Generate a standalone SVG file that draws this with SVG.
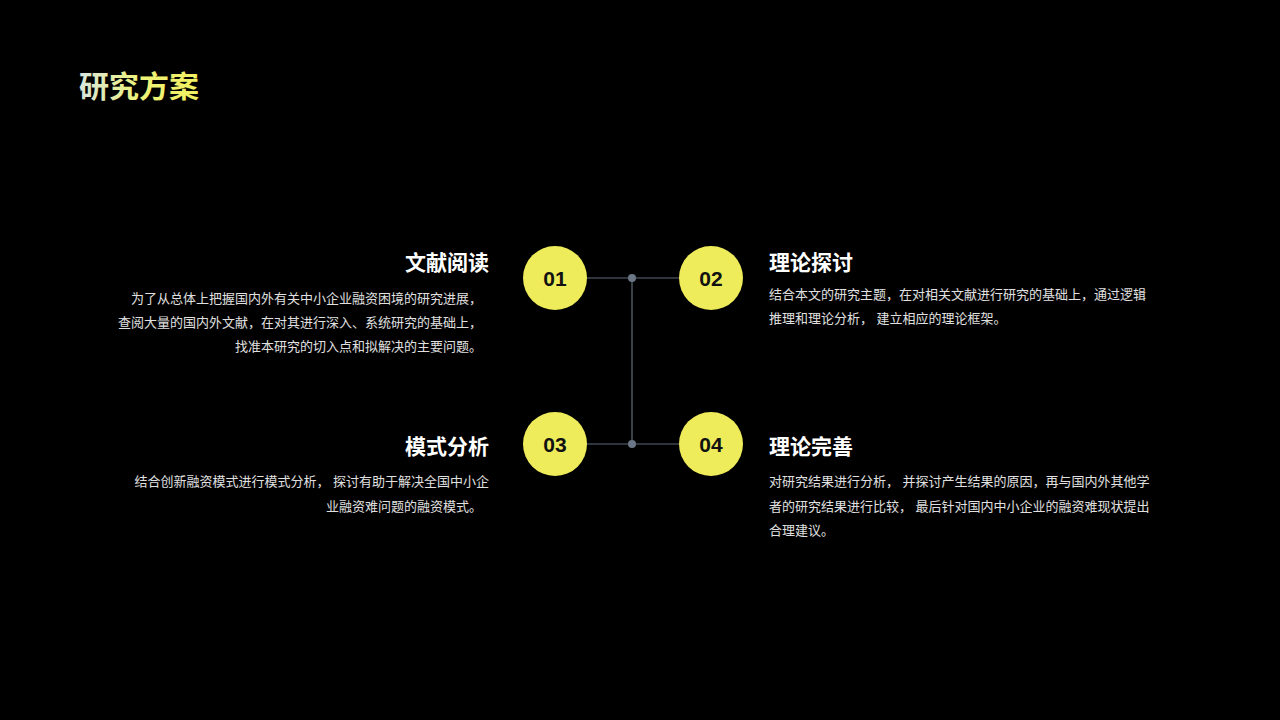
<svg xmlns="http://www.w3.org/2000/svg" width="1280" height="720" viewBox="0 0 1280 720">
<defs>
<linearGradient id="tg" x1="0" y1="0" x2="1" y2="0"><stop offset="0" stop-color="#d8e6e0"/><stop offset="0.5" stop-color="#eef27a"/><stop offset="1" stop-color="#f0f060"/></linearGradient>
</defs>
<style>
text{font-family:"Liberation Sans","Noto Sans CJK SC",sans-serif}
.h{font-size:21px;font-weight:bold;fill:#fff}
.b{font-size:13px;fill:#e0e0e0}
.n{font-size:21px;font-weight:bold;fill:#111;text-anchor:middle}
.c{fill:#eeec5a}
.l{stroke:#5f6b7a;stroke-width:1.2;fill:none}
</style>
<rect width="1280" height="720" fill="#000"/>
<text x="79" y="97" font-size="30" font-weight="bold" fill="url(#tg)">研究方案</text>
<g id="connectors">
<path class="l" d="M587 278H679M587 444H679M632 278V444"/>
<circle cx="632" cy="278" r="4" fill="#6b7787"/>
<circle cx="632" cy="444" r="4" fill="#6b7787"/>
</g>
<g id="n01"><circle class="c" cx="555" cy="278" r="32"/><text class="n" x="555" y="285.5">01</text>
<text class="h" x="489" y="270" text-anchor="end">文献阅读</text>
<text class="b" text-anchor="end"><tspan x="482" y="303">为了从总体上把握国内外有关中小企业融资困境的研究进展，</tspan><tspan x="482" y="327">查阅大量的国内外文献，在对其进行深入、系统研究的基础上，</tspan><tspan x="482" y="351">找准本研究的切入点和拟解决的主要问题。</tspan></text></g>
<g id="n02"><circle class="c" cx="711" cy="278" r="32"/><text class="n" x="711" y="285.5">02</text>
<text class="h" x="769" y="270">理论探讨</text>
<text class="b"><tspan x="769" y="299">结合本文的研究主题，在对相关文献进行研究的基础上，通过逻辑</tspan><tspan x="769" y="323">推理和理论分析， 建立相应的理论框架。</tspan></text></g>
<g id="n03"><circle class="c" cx="555" cy="444" r="32"/><text class="n" x="555" y="451.5">03</text>
<text class="h" x="489" y="454" text-anchor="end">模式分析</text>
<text class="b" text-anchor="end"><tspan x="489" y="486">结合创新融资模式进行模式分析， 探讨有助于解决全国中小企</tspan><tspan x="482" y="511">业融资难问题的融资模式。</tspan></text></g>
<g id="n04"><circle class="c" cx="711" cy="444" r="32"/><text class="n" x="711" y="451.5">04</text>
<text class="h" x="769" y="454">理论完善</text>
<text class="b"><tspan x="769" y="486">对研究结果进行分析， 并探讨产生结果的原因，再与国内外其他学</tspan><tspan x="769" y="511">者的研究结果进行比较， 最后针对国内中小企业的融资难现状提出</tspan><tspan x="769" y="535">合理建议。</tspan></text></g>
</svg>
